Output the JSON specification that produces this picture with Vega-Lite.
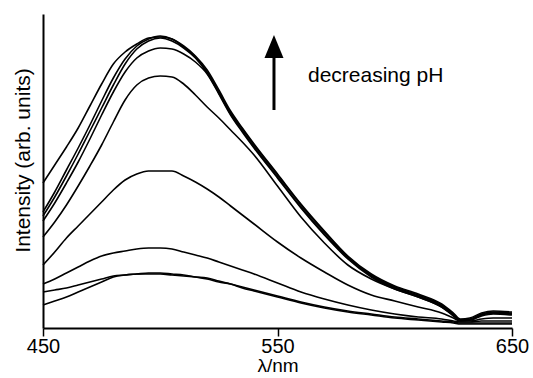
{
  "$schema": "https://vega.github.io/schema/vega-lite/v6.json",
  "width": 469,
  "height": 314,
  "autosize": {"type": "none"},
  "padding": {"left": 43, "top": 14, "right": 21, "bottom": 50},
  "background": "white",
  "config": {"view": {"stroke": null}, "font": "Liberation Sans"},
  "layer": [
    {
      "data": {"values": [
        {"w":450,"s1":145,"s2":116,"s3":112,"s4":107,"s5":91,"s6":63,"s7":44,"s8":36,"s9":23},
        {"w":455,"s1":163,"s2":136,"s3":131,"s4":125,"s5":106,"s6":76,"s7":49,"s8":38,"s9":27},
        {"w":460,"s1":181,"s2":158,"s3":152,"s4":145,"s5":123,"s6":90,"s7":55,"s8":40,"s9":31},
        {"w":465,"s1":200,"s2":180,"s3":174,"s4":166,"s5":142,"s6":102,"s7":61,"s8":43,"s9":36},
        {"w":470,"s1":222,"s2":203,"s3":197,"s4":189,"s5":162,"s6":114,"s7":67,"s8":46,"s9":41},
        {"w":475,"s1":244,"s2":227,"s3":220,"s4":213,"s5":183,"s6":126,"s7":72,"s8":49,"s9":46},
        {"w":480,"s1":264,"s2":250,"s3":243,"s4":236,"s5":206,"s6":138,"s7":75,"s8":52,"s9":51},
        {"w":485,"s1":276,"s2":269,"s3":264,"s4":256,"s5":228,"s6":148,"s7":77,"s8":53,"s9":53},
        {"w":490,"s1":284,"s2":282,"s3":279,"s4":270,"s5":243,"s6":154,"s7":79,"s8":54,"s9":54},
        {"w":495,"s1":290,"s2":289,"s3":287,"s4":277,"s5":250,"s6":157,"s7":80,"s8":54,"s9":55},
        {"w":500,"s1":291,"s2":292,"s3":290,"s4":280,"s5":252,"s6":157,"s7":80,"s8":54,"s9":55},
        {"w":505,"s1":289,"s2":289,"s3":287,"s4":279,"s5":251,"s6":157,"s7":79,"s8":53,"s9":54},
        {"w":510,"s1":282,"s2":281,"s3":280,"s4":274,"s5":244,"s6":152,"s7":76,"s8":52,"s9":53},
        {"w":515,"s1":272,"s2":271,"s3":270,"s4":266,"s5":233,"s6":146,"s7":73,"s8":51,"s9":51},
        {"w":520,"s1":258,"s2":256,"s3":255,"s4":254,"s5":221,"s6":139,"s7":70,"s8":50,"s9":49},
        {"w":525,"s1":238,"s2":236,"s3":235,"s4":234,"s5":210,"s6":131,"s7":66,"s8":47,"s9":46},
        {"w":530,"s1":217,"s2":215,"s3":214,"s4":213,"s5":198,"s6":122,"s7":62,"s8":44,"s9":44},
        {"w":535,"s1":200,"s2":199,"s3":197,"s4":196,"s5":186,"s6":113,"s7":58,"s8":41,"s9":40},
        {"w":540,"s1":184,"s2":183,"s3":181,"s4":180,"s5":173,"s6":104,"s7":54,"s8":38,"s9":37},
        {"w":550,"s1":154,"s2":153,"s3":151,"s4":150,"s5":142,"s6":86,"s7":45,"s8":32,"s9":31},
        {"w":560,"s1":124,"s2":123,"s3":121,"s4":120,"s5":111,"s6":70,"s7":36,"s8":26,"s9":25},
        {"w":570,"s1":97,"s2":96,"s3":94,"s4":93,"s5":85,"s6":56,"s7":29,"s8":21,"s9":20},
        {"w":580,"s1":72,"s2":71,"s3":70,"s4":69,"s5":63,"s6":43,"s7":23,"s8":17,"s9":16},
        {"w":590,"s1":54,"s2":53,"s3":52,"s4":51,"s5":49,"s6":33,"s7":18,"s8":14,"s9":13},
        {"w":600,"s1":42,"s2":41,"s3":40,"s4":39,"s5":39,"s6":27,"s7":14,"s8":11,"s9":10},
        {"w":610,"s1":34,"s2":33,"s3":32,"s4":31,"s5":31,"s6":21,"s7":11,"s8":9,"s9":8},
        {"w":620,"s1":24,"s2":23,"s3":22,"s4":21,"s5":21,"s6":15,"s7":9,"s8":7,"s9":6},
        {"w":625,"s1":15,"s2":14,"s3":13,"s4":12,"s5":13,"s6":10,"s7":7,"s8":6,"s9":5},
        {"w":628,"s1":9,"s2":8,"s3":8,"s4":7,"s5":8,"s6":7,"s7":6,"s8":5,"s9":4},
        {"w":632,"s1":10,"s2":9,"s3":8,"s4":8,"s5":8,"s6":7,"s7":6,"s8":5,"s9":4},
        {"w":637,"s1":15,"s2":14,"s3":13,"s4":13,"s5":12,"s6":9,"s7":7,"s8":5,"s9":4},
        {"w":642,"s1":17,"s2":16,"s3":15,"s4":15,"s5":14,"s6":10,"s7":7,"s8":5,"s9":4},
        {"w":650,"s1":16,"s2":15,"s3":14,"s4":14,"s5":13,"s6":10,"s7":7,"s8":5,"s9":4}
      ]},
      "transform": [{"fold": ["s1","s2","s3","s4","s5","s6","s7","s8","s9"], "as": ["series", "v"]}],
      "mark": {"type": "line", "color": "black", "strokeWidth": 1.6, "interpolate": "monotone"},
      "encoding": {
        "x": {"field": "w", "type": "quantitative",
          "scale": {"domain": [450, 650], "nice": false, "zero": false},
          "axis": {"values": [450, 550, 650], "title": "λ/nm", "titleFontSize": 19, "titleFontWeight": "normal", "titleColor": "black",
            "labelFontSize": 20, "labelColor": "black", "labelFlush": false, "labelPadding": 0, "titlePadding": 0,
            "tickSize": 8, "tickColor": "black", "tickWidth": 1.5, "domainColor": "black", "domainWidth": 2, "grid": false}},
        "y": {"field": "v", "type": "quantitative",
          "scale": {"domain": [0, 314], "nice": false},
          "axis": {"title": "Intensity (arb. units)", "labels": false, "ticks": false, "grid": false,
            "domainColor": "black", "domainWidth": 2, "titleFontSize": 21, "titleFontWeight": "normal", "titleColor": "black",
            "titleX": -20, "titleY": 146, "titleBaseline": "middle"}},
        "detail": {"field": "series"}
      }
    },
    {
      "data": {"values": [{"w": 548.5, "v": 218, "v2": 270}]},
      "mark": {"type": "rule", "color": "black", "strokeWidth": 3},
      "encoding": {
        "x": {"field": "w", "type": "quantitative"},
        "y": {"field": "v", "type": "quantitative"},
        "y2": {"field": "v2"}
      }
    },
    {
      "data": {"values": [{"w": 548.5, "v": 281.5}]},
      "mark": {"type": "point", "shape": "M0,-1L-0.826,1L0.826,1Z", "size": 529, "filled": true, "color": "black", "opacity": 1},
      "encoding": {
        "x": {"field": "w", "type": "quantitative"},
        "y": {"field": "v", "type": "quantitative"}
      }
    },
    {
      "data": {"values": [{"w": 563, "v": 252, "label": "decreasing pH"}]},
      "mark": {"type": "text", "align": "left", "baseline": "middle", "fontSize": 21, "color": "black"},
      "encoding": {
        "x": {"field": "w", "type": "quantitative"},
        "y": {"field": "v", "type": "quantitative"},
        "text": {"field": "label"}
      }
    }
  ]
}
